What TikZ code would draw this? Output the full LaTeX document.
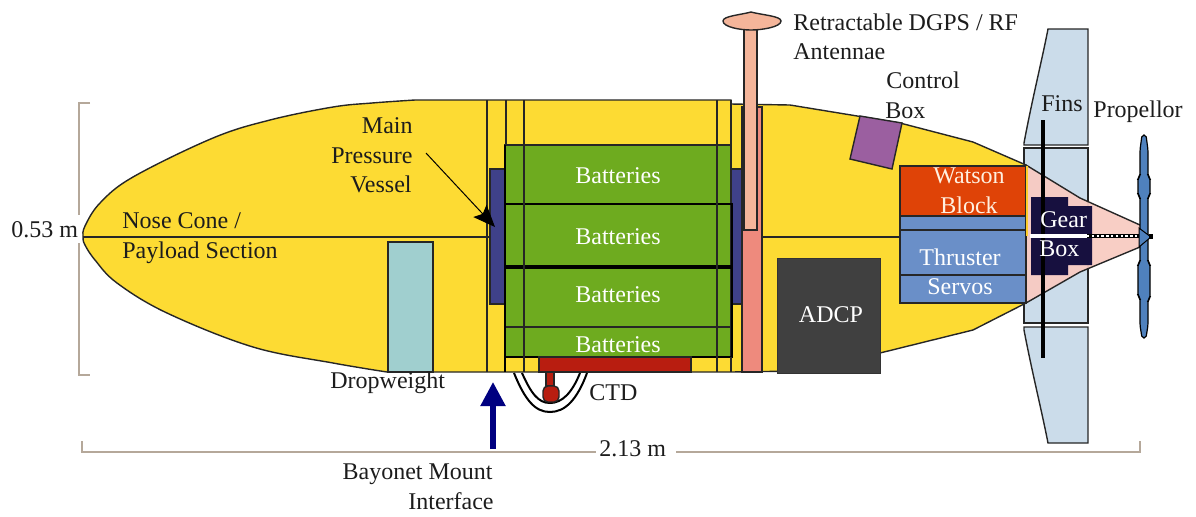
\documentclass[tikz,border=0pt]{standalone}
\usepackage{fontspec}
\setmainfont{Liberation Serif}
\usetikzlibrary{arrows.meta}
\definecolor{hull}{HTML}{FDDB33}
\definecolor{batt}{HTML}{6EAB1F}
\definecolor{navyb}{HTML}{3F4189}
\definecolor{crimson}{HTML}{B81D10}
\definecolor{drop}{HTML}{A0CFCF}
\definecolor{finb}{HTML}{CBDCEA}
\definecolor{conep}{HTML}{F8CBC2}
\definecolor{gearb}{HTML}{17103F}
\definecolor{thr}{HTML}{6A8FC8}
\definecolor{wat}{HTML}{DF4307}
\definecolor{purp}{HTML}{9B5FA0}
\definecolor{adcp}{HTML}{404040}
\definecolor{mast}{HTML}{F4B59A}
\definecolor{tube}{HTML}{EE8A7D}
\definecolor{dimc}{HTML}{B5A89A}
\definecolor{prop}{HTML}{4F81BD}
\definecolor{txtc}{HTML}{1C1C1C}
\tikzset{
  part/.style={draw=black!85,line width=.7pt},
  ln/.style={draw=black!85,line width=.7pt},
  dimline/.style={draw=dimc,line width=.6pt},
  lab/.style={font=\fontsize{12}{12}\selectfont,text=txtc,inner sep=0pt,anchor=base west},
  labr/.style={lab,anchor=base east},
  labc/.style={lab,anchor=base},
  wlab/.style={labc,text=white}
}
\begin{document}
\begin{tikzpicture}[x=.5pt,y=-.5pt]
\useasboundingbox (0,0) rectangle (1196,516);
% fins
\fill[part,fill=finb] (1024,143) .. controls (1032,100) and (1042,60) .. (1048,29) -- (1088,29) -- (1088,145) -- (1024,145) -- cycle;
\fill[part,fill=finb] (1024,148) rectangle (1088,323);
\fill[part,fill=finb] (1024,327) -- (1088,327) -- (1088,443) -- (1048,443) .. controls (1042,412) and (1032,372) .. (1024,330) -- cycle;
% tail cone
\path[fill=conep,fill opacity=.95] (1026,165) -- (1080,198) -- (1140,225) -- (1140,247) -- (1080,272) -- (1026,303) -- cycle;
\draw[ln] (1026,165) -- (1080,198) -- (1140,225);
\draw[ln] (1140,247) -- (1080,272) -- (1026,303);
% hull
\fill[part,fill=hull] plot[smooth,tension=.6] coordinates {(387,372) (333,363) (253,347) (167,313) (117,283) (95,260) (85,245) (83,237) (85,226) (100,203) (133,177) (213,138) (270,120) (333,107) (372,103) (415,100)}
  -- (731,100) -- (731,104) -- (790,105) -- (900,123) -- (973,142) -- (1026,165)
  -- (1026,303) -- (973,330) -- (880,353) -- (800,371) -- (731,372) -- cycle;
% centre line
\draw[ln] (83,237) -- (490,237);
\draw[ln] (762,237) -- (900,237);
% dropweight
\fill[part,fill=drop] (388,242) rectangle (433,372);
% side blocks
\fill[part,fill=navyb] (490,169) rectangle (505,304);
\fill[part,fill=navyb] (731,169) rectangle (742,304);
% batteries
\fill[part,fill=navyb] (505,264) rectangle (731,269);
\fill[part,fill=batt] (505,145) rectangle (731,204);
\fill[part,fill=batt] (505,204) rectangle (731,266);
\fill[part,fill=batt] (505,268) rectangle (731,327);
\fill[part,fill=batt] (505,327) rectangle (731,357);
\draw[draw=black,line width=1.1pt] (505,145) -- (505,372);
\draw[draw=black,line width=1.1pt] (505,204) -- (732,204) -- (732,357) -- (505,357);
\draw[draw=black,line width=1.1pt] (505,266) -- (732,266);
\draw[draw=black,line width=1.1pt] (505,268) -- (732,268);
% frame lines
\draw[ln] (487,100) -- (487,372);
\draw[ln] (506,100) -- (506,145);
\draw[ln] (524,100) -- (524,372);
\draw[ln] (717,100) -- (717,372);
\draw[ln] (731,100) -- (731,145);
\draw[ln] (731,357) -- (731,372);
% red bar + CTD
\fill[part,fill=crimson] (539,357) rectangle (691,372);
\draw[draw=black,line width=1pt] (514,373) .. controls (525,400) and (535,412) .. (550,412) .. controls (565,412) and (577,400) .. (587,373);
\draw[draw=black,line width=1pt] (522,373) .. controls (531,393) and (538,403) .. (550,403) .. controls (562,403) and (572,393) .. (580,373);
\fill[part,fill=crimson] (546,372) rectangle (554,386);
\fill[part,fill=crimson,rounded corners=2.5pt] (543,386) rectangle (559,402);
% antenna tube + mast
\fill[part,fill=tube] (742,107) rectangle (762,372);
\fill[part,fill=mast] (744,28) -- (757,28) -- (757,230) -- (744,230) -- cycle;
\fill[part,fill=mast] (723,21) .. controls (723,16) and (740,15) .. (751,12) .. controls (762,15) and (781,16) .. (781,21) .. controls (781,27) and (762,30) .. (751,30) .. controls (740,30) and (723,27) .. cycle;
% control box
\fill[part,fill=purp] (860,116) -- (902,123) -- (892,169) -- (850,159) -- cycle;
% ADCP
\fill[draw=adcp!80!black,line width=.5pt,fill=adcp] (777,258) rectangle (880,373);
% thruster stack
\fill[part,fill=thr] (900,216) rectangle (1026,230);
\fill[part,fill=thr] (900,230) rectangle (1026,275);
\fill[part,fill=thr] (900,275) rectangle (1026,303);
\fill[part,fill=wat] (900,166) rectangle (1026,216);
\draw[draw=hull!85!orange,line width=1pt] (1027,166) -- (1027,236);
% gear box
\fill[fill=gearb] (1031,197) -- (1068,197) -- (1068,206) -- (1092,206) -- (1092,265) -- (1068,265) -- (1068,275) -- (1031,275) -- cycle;
\draw[draw=black,line width=2pt] (1043,120) -- (1043,358);
% shaft
\draw[draw=white,line width=1.6pt] (1030,236) -- (1087,236);
\draw[draw=black,line width=2pt] (1087,236) -- (1140,236);
\draw[draw=white,line width=.8pt,dash pattern=on 1.2pt off 1.2pt] (1087,236) -- (1140,236);
% propeller
\fill[draw=black,line width=.6pt,fill=prop,rounded corners=1pt] (1142,135) -- (1146,135) -- (1148,150) -- (1148,176) -- (1150,178) -- (1150,195) -- (1148,197) -- (1148,262) -- (1150,264) -- (1150,298) -- (1148,300) -- (1148,325) -- (1146,338) -- (1142,338) -- (1140,325) -- (1140,298) -- (1138,296) -- (1138,264) -- (1140,262) -- (1140,197) -- (1138,195) -- (1138,178) -- (1140,176) -- (1140,150) -- cycle;
\fill[draw=black,line width=.5pt,fill=prop] (1139,228) -- (1151,237) -- (1139,247) -- cycle;
\fill[black] (1149,234) rectangle (1153,239);
% dimension lines
\draw[dimline] (90,103) -- (79,103) -- (79,215);
\draw[dimline] (79,243) -- (79,375) -- (90,375);
\coordinate (dimL) at (82,452);
\coordinate (dimR) at (1140,452);
\draw[dimline] (82,441) -- (dimL) -- (596,452);
\draw[dimline] (676,452) -- (dimR) -- (1140,441);
% labels
\node[labr] (lmain) at (413,133) {Main};
\node[labr] (lpress) at (413,163) {Pressure};
\node[labr] (lvessel) at (412,192) {Vessel};
\coordinate (pvA) at (426,153);
\coordinate (pvB) at (495,227);
\draw[draw=black,line width=.5pt,-{Stealth[length=11pt,width=9pt,inset=2pt]}] (pvA) -- (pvB);
\node[lab] (lnose) at (122,228) {Nose Cone /};
\node[lab] (lpay) at (122,258) {Payload Section};
\node[lab] (ldim) at (11,237) {0.53 m};
\node[lab] (ldrop) at (330,388) {Dropweight};
\node[wlab] (b1) at (618,183) {Batteries};
\node[wlab] (b2) at (618,244) {Batteries};
\node[wlab] (b3) at (618,302) {Batteries};
\node[wlab] (b4) at (618,352) {Batteries};
\node[wlab] (ladcp) at (831,322) {ADCP};
\node[lab] (lctd) at (589,400) {CTD};
\node[labr] (lbay) at (493,479) {Bayonet Mount};
\node[labr] (lint) at (494,509) {Interface};
\node[lab] (llen) at (599,456) {2.13 m};
\node[lab] (lret) at (793,30) {Retractable DGPS / RF};
\node[lab] (lant) at (793,59) {Antennae};
\node[lab] (lctl) at (886,88) {Control};
\node[lab] (lbox) at (885,118) {Box};
\node[lab] (lfins) at (1041,111) {Fins};
\node[lab] (lprop) at (1093,117) {Propellor};
\node[wlab,text=white!88!orange] (lw1) at (969,183) {Watson};
\node[wlab,text=white!88!orange] (lw2) at (969,213) {Block};
\node[wlab] (lt1) at (960,265) {Thruster};
\node[wlab] (lt2) at (960,294) {Servos};
\node[wlab,anchor=base west] (lg1) at (1040,227) {Gear};
\node[wlab,anchor=base west] (lg2) at (1039,256) {Box};
% bayonet arrow
\coordinate (baseA) at (493,449);
\coordinate (tipA) at (493,382);
\draw[draw=blue!50!black,line width=2.6pt,-{Triangle[length=12pt,width=12pt]}] (baseA) -- (tipA);
\end{tikzpicture}
\end{document}
